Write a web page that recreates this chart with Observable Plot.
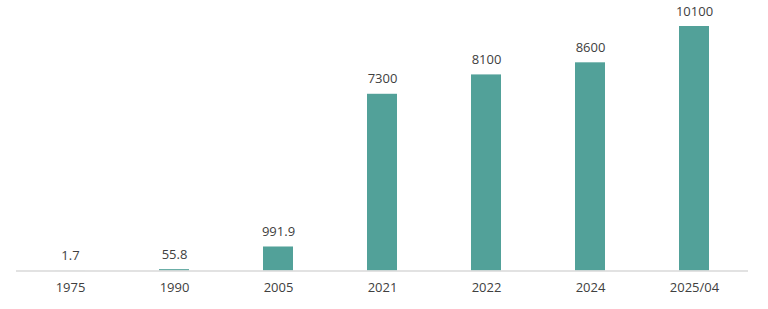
<!DOCTYPE html>
<html><head><meta charset="utf-8">
<script src="https://cdn.jsdelivr.net/npm/d3@7"></script>
<script src="https://cdn.jsdelivr.net/npm/@observablehq/plot@0.6"></script>
<style>body{margin:0;background:#fff}</style>
</head><body><div id="chart"></div>
<script>
const categories = ["1975","1990","2005","2021","2022","2024","2025/04"];
const values = [1.7, 55.8, 991.9, 7300, 8100, 8600, 10100];
const labels = ["1.7","55.8","991.9","7300","8100","8600","10100"];
const data = categories.map((c,i)=>({cat:c, v:values[i], label:labels[i]}));
const chart = Plot.plot({
  width: 768, height: 309,
  marginLeft: 16, marginRight: 20, marginTop: 26, marginBottom: 38.5,
  style: {fontFamily: "Open Sans", fontSize: "13px", color: "#404040", background: "#fff"},
  x: {domain: categories, paddingInner: 0.71, paddingOuter: 0.355, label: null, tickSize: 0, tickPadding: 12},
  y: {domain: [0, 10100], axis: null},
  marks: [
    Plot.barY(data, {x: "cat", y: "v", fill: "#52a199"}),
    Plot.ruleY([0], {stroke: "#d9d9d9", strokeWidth: 1.5}),
    Plot.text(data, {x: "cat", y: "v", text: "label", dy: -15, fill: "#404040", fontSize: 13})
  ]
});
document.getElementById("chart").append(chart);
</script></body></html>
